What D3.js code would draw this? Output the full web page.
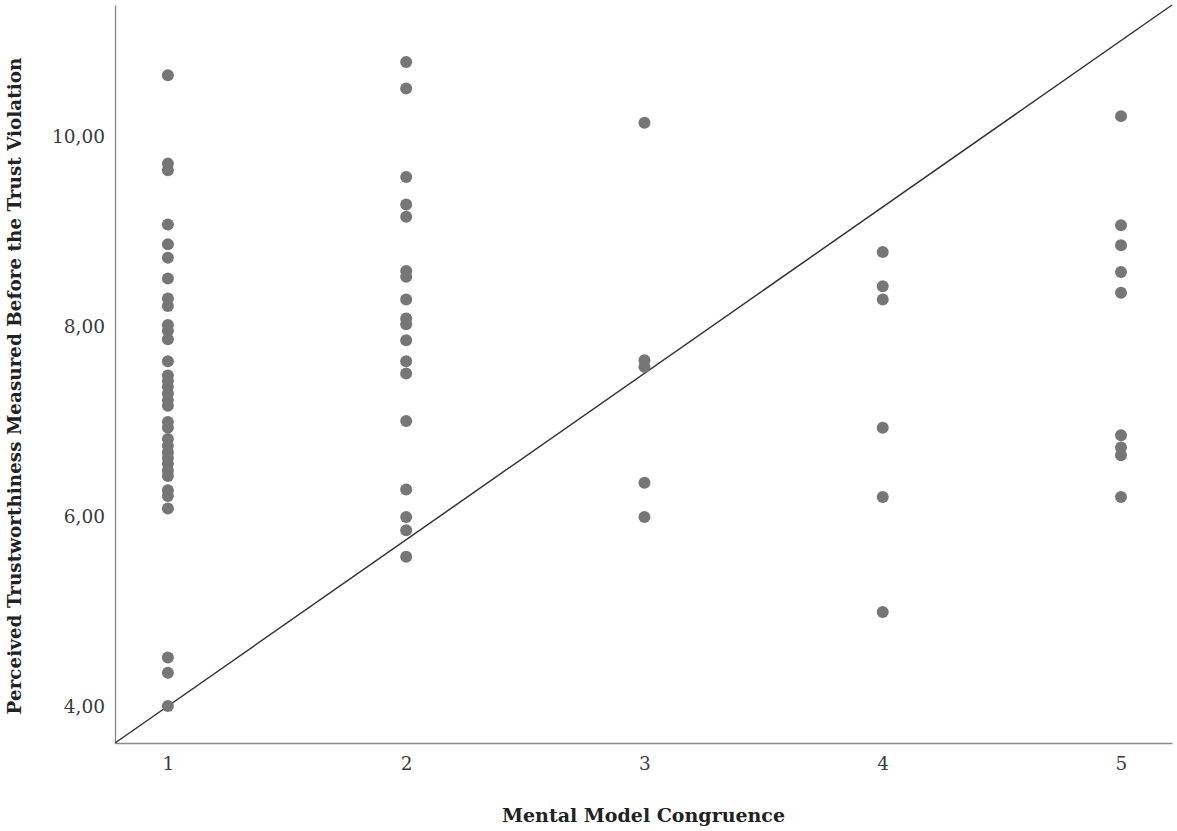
<!DOCTYPE html>
<html>
<head>
<meta charset="utf-8">
<script src="https://cdn.jsdelivr.net/npm/d3@7"></script>
<style>
  body { margin: 0; background: #fff; }
  text { font-family: "DejaVu Serif", serif; }
</style>
</head>
<body>
<div id="container"></div>
<script>
/* DATA: one array of y values per congruence level */
const categories = [1, 2, 3, 4, 5]
const yTicks = [4, 6, 8, 10]

const level1 = [10.65, 9.72, 9.65, 9.08, 8.87, 8.73, 8.51, 8.30, 8.22, 8.02, 7.96, 7.87, 7.64,
  7.49, 7.43, 7.37, 7.30, 7.23, 7.17, 7.00, 6.94, 6.82, 6.75, 6.68, 6.62, 6.56, 6.49, 6.43,
  6.28, 6.22, 6.09, 4.52, 4.36, 4.01]
const level2 = [10.79, 10.51, 9.58, 9.29, 9.16, 8.59, 8.53, 8.29, 8.09, 8.03, 7.86, 7.64,
  7.51, 7.01, 6.29, 6.00, 5.86, 5.58]
const level3 = [10.15, 7.65, 7.58, 6.36, 6.00]
const level4 = [8.79, 8.43, 8.29, 6.94, 6.21, 5.00]
const level5 = [10.22, 9.07, 8.86, 8.58, 8.36, 6.86, 6.73, 6.65, 6.21]

const xDomain = [0.778, 5.214]
const yDomain = [3.62, 11.39]

/* CONSTANTS */
const width = 1177,
  height = 831,
  margin = { top: 5, bottom: 88, left: 115, right: 5 };

const points = [level1, level2, level3, level4, level5]
  .flatMap((vals, i) => vals.map(v => ({ x: categories[i], y: v })))

const svg = d3.select("#container")
  .append("svg")
  .attr("width", width)
  .attr("height", height)

const xScale = d3.scaleLinear()
  .domain(xDomain)
  .range([margin.left, width - margin.right])

const yScale = d3.scaleLinear()
  .domain(yDomain)
  .range([height - margin.bottom, margin.top])

// AXES
svg.append("g")
  .attr("transform", `translate(0, ${height - margin.bottom})`)
  .call(d3.axisBottom(xScale).tickValues(categories).tickSize(0).tickPadding(14).tickFormat(d3.format("d")))

svg.append("g")
  .attr("transform", `translate(${margin.left}, 0)`)
  .call(d3.axisLeft(yScale).tickValues(yTicks).tickSize(0).tickPadding(10)
    .tickFormat(d => d.toFixed(2).replace(".", ",")))

svg.selectAll(".domain").attr("stroke", "#8a8a8a").attr("stroke-width", 1.3)
svg.selectAll(".tick text")
  .attr("font-family", "DejaVu Serif, serif")
  .attr("font-size", 18.5)
  .attr("fill", "#3a3a3a")

// DIAGONAL REFERENCE LINE
svg.append("line")
  .attr("x1", xScale(xDomain[0]))
  .attr("y1", yScale(yDomain[0]))
  .attr("x2", xScale(xDomain[1]))
  .attr("y2", yScale(yDomain[1]))
  .attr("stroke", "#333")
  .attr("stroke-width", 1.5)

// POINTS
svg.selectAll("circle.pt")
  .data(points)
  .join("circle")
  .attr("class", "pt")
  .attr("cx", d => xScale(d.x))
  .attr("cy", d => yScale(d.y))
  .attr("r", 6)
  .attr("fill", "#767676")

// AXIS TITLES
svg.append("text")
  .attr("x", (margin.left + width - margin.right) / 2)
  .attr("y", 822)
  .attr("text-anchor", "middle")
  .attr("font-size", 19)
  .attr("font-weight", "bold")
  .attr("fill", "#222")
  .text("Mental Model Congruence")

svg.append("text")
  .attr("transform", `translate(21, ${(margin.top + height - margin.bottom) / 2 + 12}) rotate(-90)`)
  .attr("text-anchor", "middle")
  .attr("font-size", 18.4)
  .attr("font-weight", "bold")
  .attr("fill", "#222")
  .text("Perceived Trustworthiness Measured Before the Trust Violation")
</script>
</body>
</html>
